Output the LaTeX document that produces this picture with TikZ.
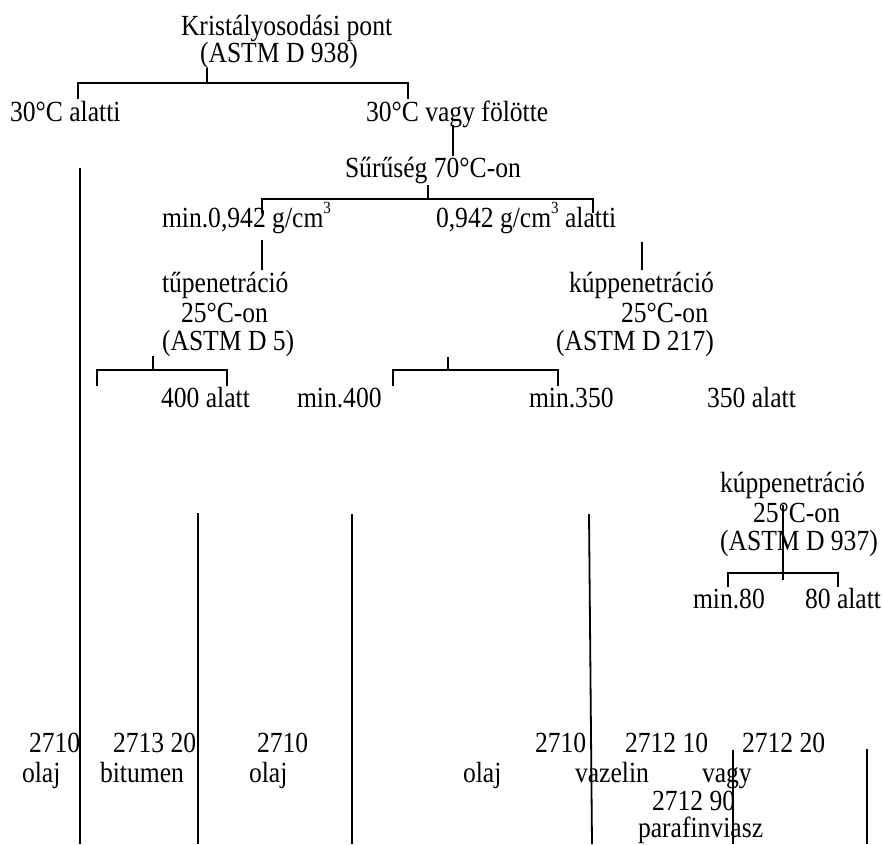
\documentclass[tikz,border=0pt]{standalone}
\usepackage{fontspec}
\usepackage{graphicx}
\setmainfont{Liberation Serif}
\newcommand{\tallt}[1]{\scalebox{1}[1.14]{#1}}
\begin{document}
\begin{tikzpicture}[x=1pt,y=-1pt,
  lbl/.style={anchor=base west,inner sep=0pt,outer sep=0pt,font=\fontsize{25.6}{28}\selectfont},
  ln/.style={line width=1.8pt,line cap=butt,line join=miter}]
\useasboundingbox (0,0) rectangle (882,844);
% ---- texts ----
\node[lbl] (kp)   at (181,35)  {\tallt{Kristályosodási pont}};
\node[lbl] (kp2)  at (200,62)  {\tallt{(ASTM D 938)}};
\node[lbl] (c30a) at (10,121)  {\tallt{30°C alatti}};
\node[lbl] (c30f) at (366,121) {\tallt{30°C vagy fölötte}};
\node[lbl] (sur)  at (345,177) {\tallt{Sűrűség 70°C-on}};
\node[lbl] (dmin) at (162,227) {\tallt{min.0,942 g/cm\raisebox{0.45em}{\fontsize{15}{16}\selectfont 3}}};
\node[lbl] (dal)  at (436,227) {\tallt{0,942 g/cm\raisebox{0.45em}{\fontsize{15}{16}\selectfont 3} alatti}};
\node[lbl] (tu1)  at (162,292) {\tallt{tűpenetráció}};
\node[lbl] (tu2)  at (181,322) {\tallt{25°C-on}};
\node[lbl] (tu3)  at (162,350) {\tallt{(ASTM D 5)}};
\node[lbl] (ku1)  at (569,292) {\tallt{kúppenetráció}};
\node[lbl] (ku2)  at (621,322) {\tallt{25°C-on}};
\node[lbl] (ku3)  at (556,350) {\tallt{(ASTM D 217)}};
\node[lbl] (a400) at (161,407) {\tallt{400 alatt}};
\node[lbl] (m400) at (297,407) {\tallt{min.400}};
\node[lbl] (m350) at (529,407) {\tallt{min.350}};
\node[lbl] (a350) at (707,407) {\tallt{350 alatt}};
\node[lbl] (kk1)  at (720,492) {\tallt{kúppenetráció}};
\node[lbl] (kk2)  at (753,522) {\tallt{25°C-on}};
\node[lbl] (kk3)  at (720,550) {\tallt{(ASTM D 937)}};
\node[lbl] (m80)  at (693,608) {\tallt{min.80}};
\node[lbl] (a80)  at (805,608) {\tallt{80 alatt}};
\node[lbl] (r1a) at (29,752)  {\tallt{2710}};
\node[lbl] (r1b) at (113,752) {\tallt{2713 20}};
\node[lbl] (r1c) at (257,752) {\tallt{2710}};
\node[lbl] (r1d) at (535,752) {\tallt{2710}};
\node[lbl] (r1e) at (625,752) {\tallt{2712 10}};
\node[lbl] (r1f) at (742,752) {\tallt{2712 20}};
\node[lbl] (r2a) at (22,782)  {\tallt{olaj}};
\node[lbl] (r2b) at (100,782) {\tallt{bitumen}};
\node[lbl] (r2c) at (249,782) {\tallt{olaj}};
\node[lbl] (r2d) at (463,782) {\tallt{olaj}};
\node[lbl] (r2e) at (575,782) {\tallt{vazelin}};
\node[lbl] (r2f) at (702,782) {\tallt{vagy}};
\node[lbl] (r3)  at (652,810) {\tallt{2712 90}};
\node[lbl] (r4)  at (638,837) {\tallt{parafinviasz}};
% ---- bracket points ----
\coordinate (A0) at (207,68);  \coordinate (A1) at (207,83);
\coordinate (AL) at (78,99);   \coordinate (ALt) at (78,83);
\coordinate (AR) at (408,99);  \coordinate (ARt) at (408,83);
\coordinate (S0) at (453,125); \coordinate (S1) at (453,156);
\coordinate (B0) at (428,185); \coordinate (B1) at (428,199);
\coordinate (BL) at (262,213); \coordinate (BLt) at (262,199);
\coordinate (BR) at (593,213); \coordinate (BRt) at (593,199);
\coordinate (P0) at (262,240); \coordinate (P1) at (262,270);
\coordinate (Q0) at (642,242); \coordinate (Q1) at (642,270);
\coordinate (C0) at (153,356); \coordinate (C1) at (153,370);
\coordinate (CL) at (97,386);  \coordinate (CLt) at (97,370);
\coordinate (CR) at (227,386); \coordinate (CRt) at (227,370);
\coordinate (D0) at (448,357); \coordinate (D1) at (448,370);
\coordinate (DL) at (393,386); \coordinate (DLt) at (393,370);
\coordinate (DR) at (558,386); \coordinate (DRt) at (558,370);
\coordinate (E0) at (783,505); \coordinate (E1) at (783,580);
\coordinate (EL) at (728,587); \coordinate (ELt) at (728,573);
\coordinate (ER) at (838,587); \coordinate (ERt) at (838,573);
\coordinate (V1a) at (80,168);  \coordinate (V1b) at (80,844);
\coordinate (V2a) at (198,513); \coordinate (V2b) at (198,844);
\coordinate (V3a) at (352,514); \coordinate (V3b) at (352,844);
\coordinate (V4a) at (589,514); \coordinate (V4b) at (592,844);
\coordinate (V5a) at (733,750); \coordinate (V5b) at (733,844);
\coordinate (V6a) at (867,749); \coordinate (V6b) at (867,844);
% ---- lines ----
\draw[ln] (A0) -- (A1);
\draw[ln] (AL) -- (ALt) -- (ARt) -- (AR);
\draw[ln] (S0) -- (S1);
\draw[ln] (B0) -- (B1);
\draw[ln] (BL) -- (BLt) -- (BRt) -- (BR);
\draw[ln] (P0) -- (P1);
\draw[ln] (Q0) -- (Q1);
\draw[ln] (C0) -- (C1);
\draw[ln] (CL) -- (CLt) -- (CRt) -- (CR);
\draw[ln] (D0) -- (D1);
\draw[ln] (DL) -- (DLt) -- (DRt) -- (DR);
\draw[ln] (E0) -- (E1);
\draw[ln] (EL) -- (ELt) -- (ERt) -- (ER);
\draw[ln] (V1a) -- (V1b);
\draw[ln] (V2a) -- (V2b);
\draw[ln] (V3a) -- (V3b);
\draw[ln] (V4a) -- (V4b);
\draw[ln] (V5a) -- (V5b);
\draw[ln] (V6a) -- (V6b);
\end{tikzpicture}
\end{document}
